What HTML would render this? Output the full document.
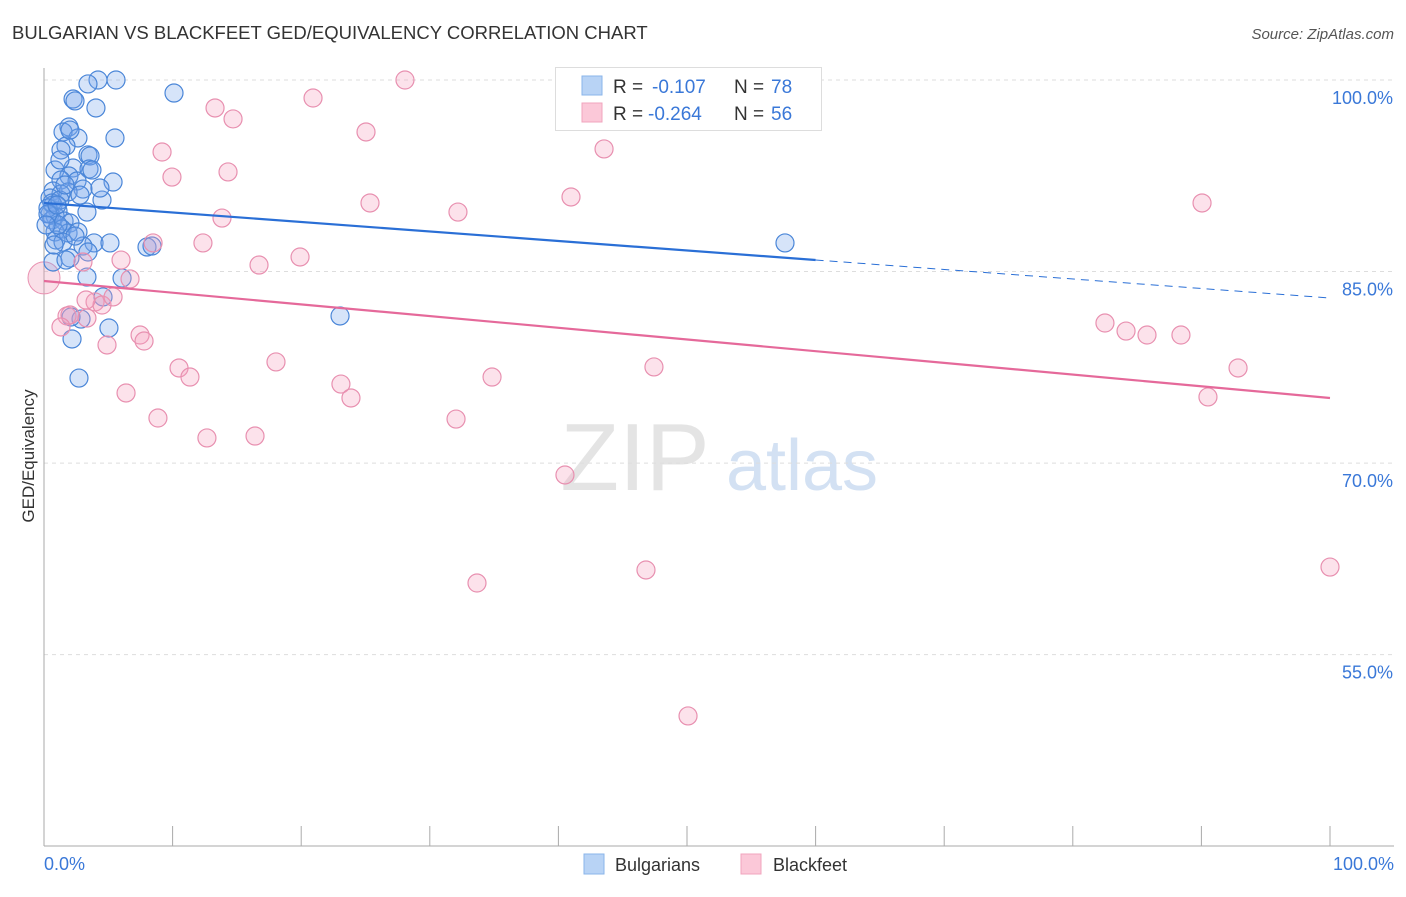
<!DOCTYPE html>
<html><head><meta charset="utf-8"><style>
body{margin:0;background:#fff;font-family:"Liberation Sans",sans-serif;}
svg text{font-family:"Liberation Sans",sans-serif;}
</style></head><body>
<svg id="chart" width="1406" height="892" viewBox="0 0 1406 892">
<text x="12" y="39" font-size="18.5" fill="#333">BULGARIAN VS BLACKFEET GED/EQUIVALENCY CORRELATION CHART</text>
<text x="1394" y="39" font-size="15" fill="#555" font-style="italic" text-anchor="end">Source: ZipAtlas.com</text>
<text x="34" y="456" font-size="17" fill="#333" transform="rotate(-90 34 456)" text-anchor="middle">GED/Equivalency</text>
<g>
<text x="635" y="490" font-size="96" fill="#e4e4e4" font-family="Liberation Serif" text-anchor="middle">ZIP</text>
<text x="802" y="490" font-size="72" fill="#d3e1f3" text-anchor="middle">atlas</text>
</g>
<g id="grid"></g><g id="ticks"></g>
<line x1="44" y1="68" x2="44" y2="846" stroke="#aaa"/>
<line x1="44" y1="846" x2="1394" y2="846" stroke="#aaa"/>
<g id="pts"></g><g id="lines"></g>
<text x="44" y="870" font-size="18" fill="#3a78d8">0.0%</text>
<text x="1394" y="870" font-size="18" fill="#3a78d8" text-anchor="end">100.0%</text>
<g>
<rect x="555.5" y="67.5" width="266" height="63" fill="#fff" stroke="#ddd"/>
<rect x="582" y="76" width="20" height="19" fill="#b8d3f5" stroke="#8ab4ea"/>
<rect x="582" y="103" width="20" height="19" fill="#fbc8d8" stroke="#f0a4be"/>
<text x="613" y="93" font-size="19" fill="#333">R = </text><text x="652" y="93" font-size="19" fill="#3a78d8">-0.107</text>
<text x="734" y="93" font-size="19" fill="#333">N = </text><text x="771" y="93" font-size="19" fill="#3a78d8">78</text>
<text x="613" y="120" font-size="19" fill="#333">R = </text><text x="648" y="120" font-size="19" fill="#3a78d8">-0.264</text>
<text x="734" y="120" font-size="19" fill="#333">N = </text><text x="771" y="120" font-size="19" fill="#3a78d8">56</text>
</g>
<g><rect x="584" y="854" width="20" height="20" fill="#b8d3f5" stroke="#8ab4ea"/><text x="615" y="871" font-size="18" fill="#333">Bulgarians</text></g>
<g><rect x="741" y="854" width="20" height="20" fill="#fbc8d8" stroke="#f0a4be"/><text x="773" y="871" font-size="18" fill="#333">Blackfeet</text></g>
</svg>
<script>
const yTicks=[100,85,70,55];
const yTickLabels=["100.0%","85.0%","70.0%","55.0%"];
const xTicks=[0,10,20,30,40,50,60,70,80,90,100];
const bulgPx=[[98,80],[116,80],[88,84],[174,93],[73,99],[75,101],[96,108],[69,127],[63,132],[115,138],[78,138],[66,146],[61,150],[88,155],[90,156],[55,170],[73,168],[89,169],[69,176],[61,180],[113,182],[77,181],[83,189],[53,191],[68,192],[61,194],[102,200],[50,198],[53,205],[58,211],[87,212],[50,214],[55,216],[52,220],[64,221],[70,223],[62,229],[55,232],[68,233],[78,232],[56,240],[63,242],[94,243],[110,243],[147,247],[152,246],[83,246],[88,252],[70,258],[53,262],[87,277],[122,278],[103,297],[81,319],[71,317],[109,328],[72,339],[340,316],[79,378],[785,243],[52,203],[48,208],[60,200],[65,185],[58,225],[75,236],[66,260],[48,214],[46,225],[57,205],[100,188],[92,170],[60,160],[70,130],[80,195],[54,245]];
const blackPx=[[405,80],[313,98],[215,108],[233,119],[366,132],[604,149],[162,152],[228,172],[172,177],[370,203],[571,197],[458,212],[222,218],[1202,203],[153,243],[203,243],[300,257],[259,265],[121,260],[83,262],[130,279],[95,302],[102,305],[113,297],[67,316],[70,315],[87,318],[61,327],[140,335],[144,341],[107,345],[1105,323],[1126,331],[1147,335],[1181,335],[276,362],[179,368],[190,377],[654,367],[1238,368],[492,377],[341,384],[351,398],[126,393],[158,418],[456,419],[207,438],[255,436],[1208,397],[565,475],[477,583],[646,570],[1330,567],[688,716],[86,300]];
const bulgX=bulgPx.map(p=>+((p[0]-44)/12.86).toFixed(2)), bulgY=bulgPx.map(p=>+(100-(p[1]-80)/12.77).toFixed(2));
const blackX=blackPx.map(p=>+((p[0]-44)/12.86).toFixed(2)), blackY=blackPx.map(p=>+(100-(p[1]-80)/12.77).toFixed(2));
const bulgTrend=[90.37,82.93];
const blackTrend=[84.26,75.1];
const X=v=>44+v*12.86, Y=v=>80+(100-v)*12.77;
const NS="http://www.w3.org/2000/svg";
function mk(t,a,parent){const e=document.createElementNS(NS,t);for(const k in a)e.setAttribute(k,a[k]);document.getElementById(parent).appendChild(e);return e;}
yTicks.forEach((v,i)=>{
 const l=mk('line',{x1:44,x2:1394,y1:Y(v),y2:Y(v),stroke:'#ddd','stroke-dasharray':'4,4'},'grid');
 
 
 const t=mk('text',{x:1393,y:Y(v)+24,'font-size':18,fill:'#3a78d8','text-anchor':'end'},'grid');t.textContent=yTickLabels[i];
 
 
});
xTicks.forEach(v=>{
 const l=mk('line',{x1:X(v),x2:X(v),y1:826,y2:846,stroke:'#aaa'},'ticks');
 
 
});
const big=mk('circle',{cx:X(0),cy:Y(84.5),r:16,fill:'rgba(240,150,180,0.3)',stroke:'#e890b0'},'pts');


bulgX.forEach((x,i)=>{
 const c=mk('circle',{cx:X(x),cy:Y(bulgY[i]),r:9,fill:'rgba(120,165,235,0.3)',stroke:'#4a86d8','stroke-width':1.2},'pts');
 
 
});
blackX.forEach((x,i)=>{
 const c=mk('circle',{cx:X(x),cy:Y(blackY[i]),r:9,fill:'rgba(245,160,190,0.3)',stroke:'#e890b0','stroke-width':1.2},'pts');
 
 
});
const bAt=x=>bulgTrend[0]+(bulgTrend[1]-bulgTrend[0])*x/100;
let l1=mk('line',{x1:X(0),y1:Y(bAt(0)),x2:X(60),y2:Y(bAt(60)),stroke:'#2a6fd6','stroke-width':2.2},'lines');


let l2=mk('line',{x1:X(60),y1:Y(bAt(60)),x2:X(100),y2:Y(bAt(100)),stroke:'#2a6fd6','stroke-width':1,'stroke-dasharray':'8,6'},'lines');


let l3=mk('line',{x1:X(0),y1:Y(blackTrend[0]),x2:X(100),y2:Y(blackTrend[1]),stroke:'#e5699a','stroke-width':2.2},'lines');


</script>
</body></html>
